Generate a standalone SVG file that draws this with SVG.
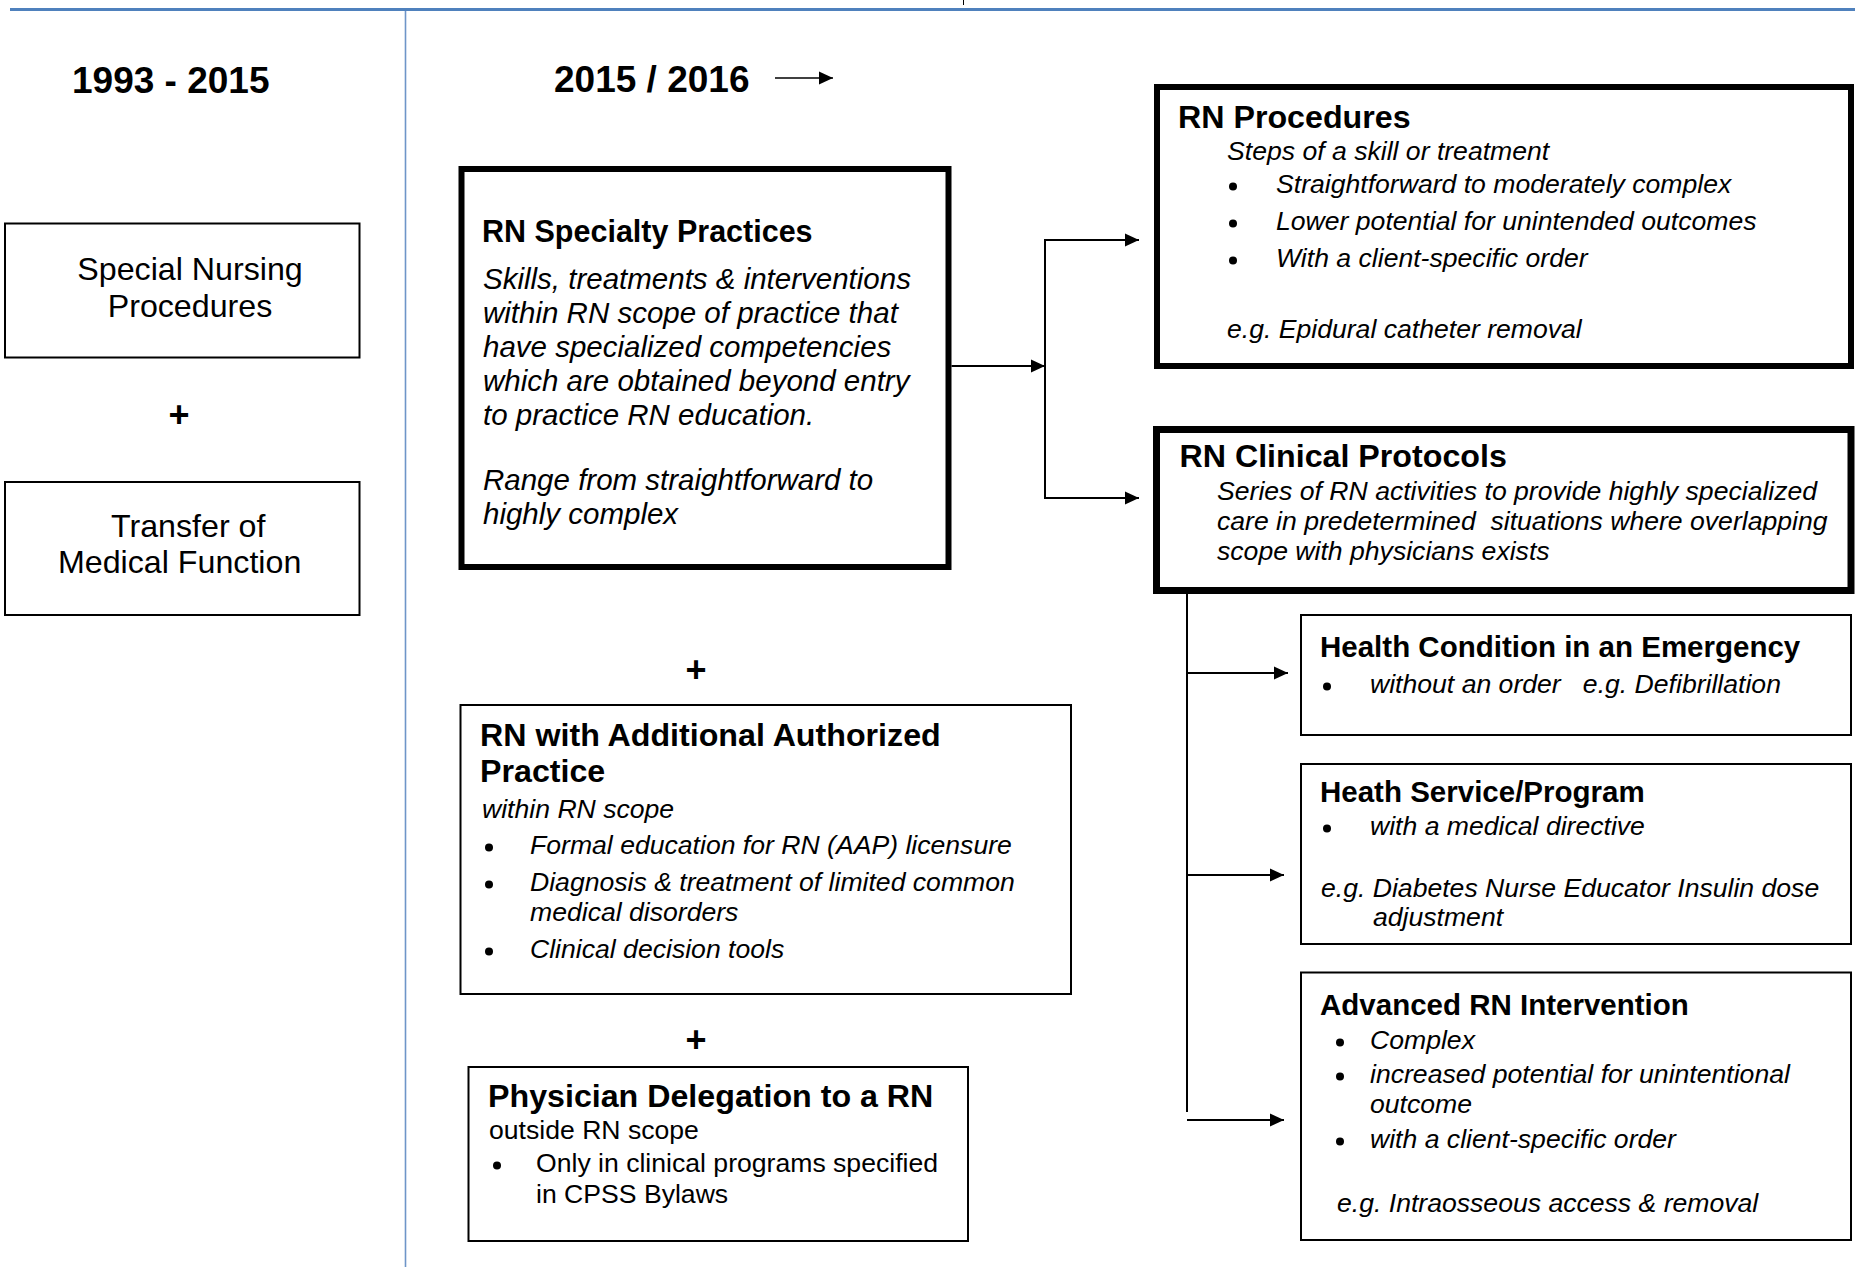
<svg xmlns="http://www.w3.org/2000/svg" width="1855" height="1267" viewBox="0 0 1855 1267">
<style>
text{font-family:"Liberation Sans",Arial,sans-serif;fill:#000;white-space:pre}
.hdr{font-size:37px;font-weight:bold}
.reg{font-size:32.2px}
.plus{font-size:36px;font-weight:bold}
.t32{font-size:32.2px;font-weight:bold}
.t30{font-size:30.5px;font-weight:bold}
.t29{font-size:29.5px;font-weight:bold}
.it{font-size:26.6px;font-style:italic}
.it29{font-size:29.5px;font-style:italic}
.r26{font-size:26.6px}
.thin{fill:#fff;stroke:#000;stroke-width:2}
.thick{fill:#fff;stroke:#000;stroke-width:6}
.thicker{fill:#fff;stroke:#000;stroke-width:7}
.con{fill:none;stroke:#000;stroke-width:2}
.bul{fill:#000}
</style>
<defs>
<marker id="ah" markerUnits="userSpaceOnUse" markerWidth="15" markerHeight="14" refX="14" refY="7" orient="auto">
<path d="M0,0.5 L14,7 L0,13.5 z" fill="#000"/>
</marker>
</defs>
<rect x="0" y="0" width="1855" height="1267" fill="#fff"/>

<g id="frame">
<line x1="10" y1="9.5" x2="1855" y2="9.5" stroke="#4F81BD" stroke-width="3"/>
<line x1="405.5" y1="11" x2="405.5" y2="1267" stroke="#6E95C8" stroke-width="1.6"/>
<line x1="963.5" y1="0" x2="963.5" y2="5" stroke="#000" stroke-width="1"/>
</g>

<g id="header-left">
<text class="hdr" x="72" y="93">1993 - 2015</text>
</g>
<g id="header-right">
<text class="hdr" x="554" y="92">2015 / 2016</text>
<line x1="775" y1="78" x2="833" y2="78" stroke="#000" stroke-width="1.6" marker-end="url(#ah)"/>
</g>

<g id="special-nursing">
<rect class="thin" x="5" y="223.5" width="354.5" height="134"/>
<text class="reg" x="190" y="280" text-anchor="middle">Special Nursing</text>
<text class="reg" x="190" y="317" text-anchor="middle">Procedures</text>
</g>
<g id="plus-left">
<text class="plus" x="179" y="427" text-anchor="middle">+</text>
</g>
<g id="transfer">
<rect class="thin" x="5" y="482" width="354.5" height="133"/>
<text class="reg" x="111" y="537">Transfer of</text>
<text class="reg" x="58" y="573">Medical Function</text>
</g>

<g id="rn-specialty">
<rect class="thick" x="461.5" y="169" width="487" height="398"/>
<text class="t30" x="482" y="242">RN Specialty Practices</text>
<text class="it29" x="483" y="289">Skills, treatments &amp; interventions</text>
<text class="it29" x="483" y="323">within RN scope of practice that</text>
<text class="it29" x="483" y="357">have specialized competencies</text>
<text class="it29" x="483" y="391">which are obtained beyond entry</text>
<text class="it29" x="483" y="425">to practice RN education.</text>
<text class="it29" x="483" y="490">Range from straightforward to</text>
<text class="it29" x="483" y="524">highly complex</text>
</g>

<g id="plus-mid1">
<text class="plus" x="696" y="682" text-anchor="middle">+</text>
</g>

<g id="rn-aap">
<rect class="thin" x="460.5" y="705" width="610.5" height="289"/>
<text class="t32" x="480" y="746">RN with Additional Authorized</text>
<text class="t32" x="480" y="782">Practice</text>
<text class="it" x="482" y="818">within RN scope</text>
<circle class="bul" cx="489" cy="847.5" r="4"/>
<text class="it" x="530" y="854">Formal education for RN (AAP) licensure</text>
<circle class="bul" cx="489" cy="884.5" r="4"/>
<text class="it" x="530" y="891">Diagnosis &amp; treatment of limited common</text>
<text class="it" x="530" y="921">medical disorders</text>
<circle class="bul" cx="489" cy="951.5" r="4"/>
<text class="it" x="530" y="958">Clinical decision tools</text>
</g>

<g id="plus-mid2">
<text class="plus" x="696" y="1052" text-anchor="middle">+</text>
</g>

<g id="physician-delegation">
<rect class="thin" x="468.5" y="1067" width="499.5" height="174"/>
<text class="t32" x="488" y="1107">Physician Delegation to a RN</text>
<text class="r26" x="489" y="1139">outside RN scope</text>
<circle class="bul" cx="497" cy="1165.5" r="4"/>
<text class="r26" x="536" y="1172">Only in clinical programs specified</text>
<text class="r26" x="536" y="1203">in CPSS Bylaws</text>
</g>

<g id="rn-procedures">
<rect class="thick" x="1157" y="87" width="694" height="279"/>
<text class="t32" x="1178" y="128">RN Procedures</text>
<text class="it" x="1227" y="160">Steps of a skill or treatment</text>
<circle class="bul" cx="1233" cy="186.5" r="4"/>
<text class="it" x="1276" y="193">Straightforward to moderately complex</text>
<circle class="bul" cx="1233" cy="223.5" r="4"/>
<text class="it" x="1276" y="230">Lower potential for unintended outcomes</text>
<circle class="bul" cx="1233" cy="260.5" r="4"/>
<text class="it" x="1276" y="267">With a client-specific order</text>
<text class="it" x="1227" y="338">e.g. Epidural catheter removal</text>
</g>

<g id="rn-clinical-protocols">
<rect class="thicker" x="1156.5" y="429.5" width="694.5" height="161"/>
<text class="t32" x="1179.5" y="467">RN Clinical Protocols</text>
<text class="it" x="1217" y="500">Series of RN activities to provide highly specialized</text>
<text class="it" x="1217" y="530">care in predetermined  situations where overlapping</text>
<text class="it" x="1217" y="560">scope with physicians exists</text>
</g>

<g id="health-condition">
<rect class="thin" x="1301" y="615" width="550" height="120"/>
<text class="t29" x="1320" y="657">Health Condition in an Emergency</text>
<circle class="bul" cx="1327" cy="686.5" r="4"/>
<text class="it" x="1370" y="693">without an order   e.g. Defibrillation</text>
</g>

<g id="health-service">
<rect class="thin" x="1301" y="764" width="550" height="180"/>
<text class="t29" x="1320" y="802">Heath Service/Program</text>
<circle class="bul" cx="1327" cy="828.5" r="4"/>
<text class="it" x="1370" y="835">with a medical directive</text>
<text class="it" x="1321" y="897">e.g. Diabetes Nurse Educator Insulin dose</text>
<text class="it" x="1373" y="926">adjustment</text>
</g>

<g id="advanced-rn">
<rect class="thin" x="1301" y="972.5" width="550" height="267.5"/>
<text class="t29" x="1320" y="1015">Advanced RN Intervention</text>
<circle class="bul" cx="1340" cy="1042.5" r="4"/>
<text class="it" x="1370" y="1049">Complex</text>
<circle class="bul" cx="1340" cy="1076.5" r="4"/>
<text class="it" x="1370" y="1083">increased potential for unintentional</text>
<text class="it" x="1370" y="1113">outcome</text>
<circle class="bul" cx="1340" cy="1141.5" r="4"/>
<text class="it" x="1370" y="1148">with a client-specific order</text>
<text class="it" x="1337" y="1212">e.g. Intraosseous access &amp; removal</text>
</g>

<g id="connectors">
<line class="con" x1="951.5" y1="366" x2="1045" y2="366" marker-end="url(#ah)"/>
<line class="con" x1="1045" y1="239" x2="1045" y2="499"/>
<line class="con" x1="1044" y1="240" x2="1139" y2="240" marker-end="url(#ah)"/>
<line class="con" x1="1044" y1="498" x2="1139" y2="498" marker-end="url(#ah)"/>
<line class="con" x1="1187" y1="594" x2="1187" y2="1112"/>
<line class="con" x1="1186" y1="673" x2="1288" y2="673" marker-end="url(#ah)"/>
<line class="con" x1="1186" y1="875" x2="1284" y2="875" marker-end="url(#ah)"/>
<line class="con" x1="1187" y1="1120" x2="1284" y2="1120" marker-end="url(#ah)"/>
</g>
</svg>
